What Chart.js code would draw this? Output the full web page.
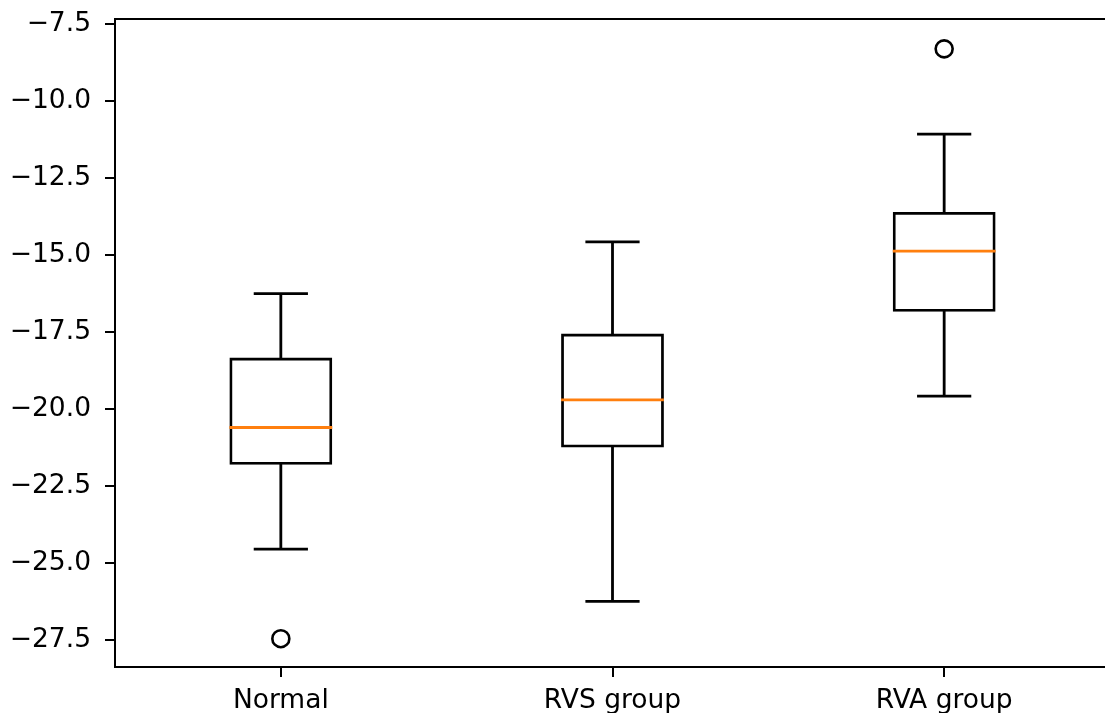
<!DOCTYPE html>
<html>
<head>
<meta charset="utf-8">
<script src="https://cdn.jsdelivr.net/npm/chart.js@4.4.0/dist/chart.umd.min.js"></script>
<style>
  html, body { margin: 0; padding: 0; background: #fff; overflow: hidden; }
  /* plot runs a bit past the right edge of the window, like the original */
  #chart-container { width: 1110px; height: 713px; position: relative; }
</style>
</head>
<body>
<div id="chart-container"><canvas id="myChart"></canvas></div>
<script>
// --- data ---
const groupLabels = ['Normal', 'RVS group', 'RVA group'];
const whiskerLow = [-24.55, -26.25, -19.58];
const q1Values = [-21.81, -21.25, -16.84];
const medianValues = [-20.60, -19.70, -14.87];
const q3Values = [-18.33, -17.55, -13.60];
const whiskerHigh = [-16.25, -14.57, -11.07];
const outlierValues = [-27.46, null, -8.30];
const yTickValues = [-27.5, -25, -22.5, -20, -17.5, -15, -12.5, -10, -7.5];

const lineColor = '#000000';
const medianColor = '#ff7f0e';
const boxLineWidth = 2.8;

Chart.defaults.font.family = '"DejaVu Sans", sans-serif';
Chart.defaults.font.size = 26.5;
Chart.defaults.color = '#000';

// whiskers, caps, medians and the top spine, drawn through the chart scales
const boxWhiskerPlugin = {
    id: 'boxWhiskers',
    afterDatasetsDraw(chart) {
        const ctx = chart.ctx;
        const yScale = chart.scales.y;
        const meta = chart.getDatasetMeta(0);
        const area = chart.chartArea;

        ctx.save();
        ctx.lineWidth = boxLineWidth;
        ctx.strokeStyle = lineColor;
        ctx.lineCap = 'square';

        meta.data.forEach((bar, i) => {
            const x = bar.x;
            const halfCap = bar.width / 4;
            const yQ1 = yScale.getPixelForValue(q1Values[i]);
            const yQ3 = yScale.getPixelForValue(q3Values[i]);
            const yLow = yScale.getPixelForValue(whiskerLow[i]);
            const yHigh = yScale.getPixelForValue(whiskerHigh[i]);

            ctx.beginPath();
            ctx.moveTo(x, yQ3); ctx.lineTo(x, yHigh);
            ctx.moveTo(x, yQ1); ctx.lineTo(x, yLow);
            ctx.moveTo(x - halfCap, yHigh); ctx.lineTo(x + halfCap, yHigh);
            ctx.moveTo(x - halfCap, yLow); ctx.lineTo(x + halfCap, yLow);
            ctx.stroke();
        });

        // median lines
        ctx.strokeStyle = medianColor;
        ctx.lineCap = 'butt';
        meta.data.forEach((bar, i) => {
            const yMed = yScale.getPixelForValue(medianValues[i]);
            ctx.beginPath();
            ctx.moveTo(bar.x - bar.width / 2, yMed);
            ctx.lineTo(bar.x + bar.width / 2, yMed);
            ctx.stroke();
        });

        // top spine
        ctx.strokeStyle = lineColor;
        ctx.lineWidth = 2;
        ctx.beginPath();
        ctx.moveTo(area.left, area.top);
        ctx.lineTo(area.right, area.top);
        ctx.stroke();
        ctx.restore();
    }
};

const ctx = document.getElementById('myChart').getContext('2d');
new Chart(ctx, {
    type: 'bar',
    data: {
        labels: groupLabels,
        datasets: [
            {
                label: 'box',
                data: groupLabels.map((_, i) => [q1Values[i], q3Values[i]]),
                backgroundColor: 'rgba(0,0,0,0)',
                borderColor: lineColor,
                borderWidth: boxLineWidth,
                borderSkipped: false,
                barPercentage: 0.31,
                categoryPercentage: 1.0
            },
            {
                type: 'line',
                label: 'outliers',
                data: outlierValues,
                showLine: false,
                pointStyle: 'circle',
                pointRadius: 8.5,
                pointBorderWidth: 2.6,
                pointBorderColor: lineColor,
                pointBackgroundColor: 'rgba(0,0,0,0)'
            }
        ]
    },
    options: {
        responsive: true,
        maintainAspectRatio: false,
        animation: false,
        layout: { autoPadding: false, padding: { top: 19, left: 0, right: 0, bottom: 0 } },
        plugins: {
            legend: { display: false },
            tooltip: { enabled: false }
        },
        scales: {
            x: {
                offset: true,
                afterFit: axis => {
                    axis.height = 46;
                    axis.paddingLeft = 0;
                    axis.paddingRight = 0;
                },
                grid: { drawOnChartArea: false, offset: false, tickLength: 10, color: lineColor, lineWidth: 2 },
                border: { color: lineColor, width: 2 },
                ticks: { padding: 8, color: '#000' }
            },
            y: {
                min: -28.38,
                max: -7.33,
                afterBuildTicks: axis => { axis.ticks = yTickValues.map(v => ({ value: v })); },
                afterFit: axis => {
                    axis.width = 115;
                    axis.paddingTop = 0;
                    axis.paddingBottom = 0;
                },
                grid: { drawOnChartArea: false, tickLength: 10, color: lineColor, lineWidth: 2 },
                border: { color: lineColor, width: 2 },
                ticks: {
                    padding: 14,
                    color: '#000',
                    callback: value => value.toFixed(1).replace('-', '\u2212')
                }
            }
        }
    },
    plugins: [boxWhiskerPlugin]
});
</script>
</body>
</html>
